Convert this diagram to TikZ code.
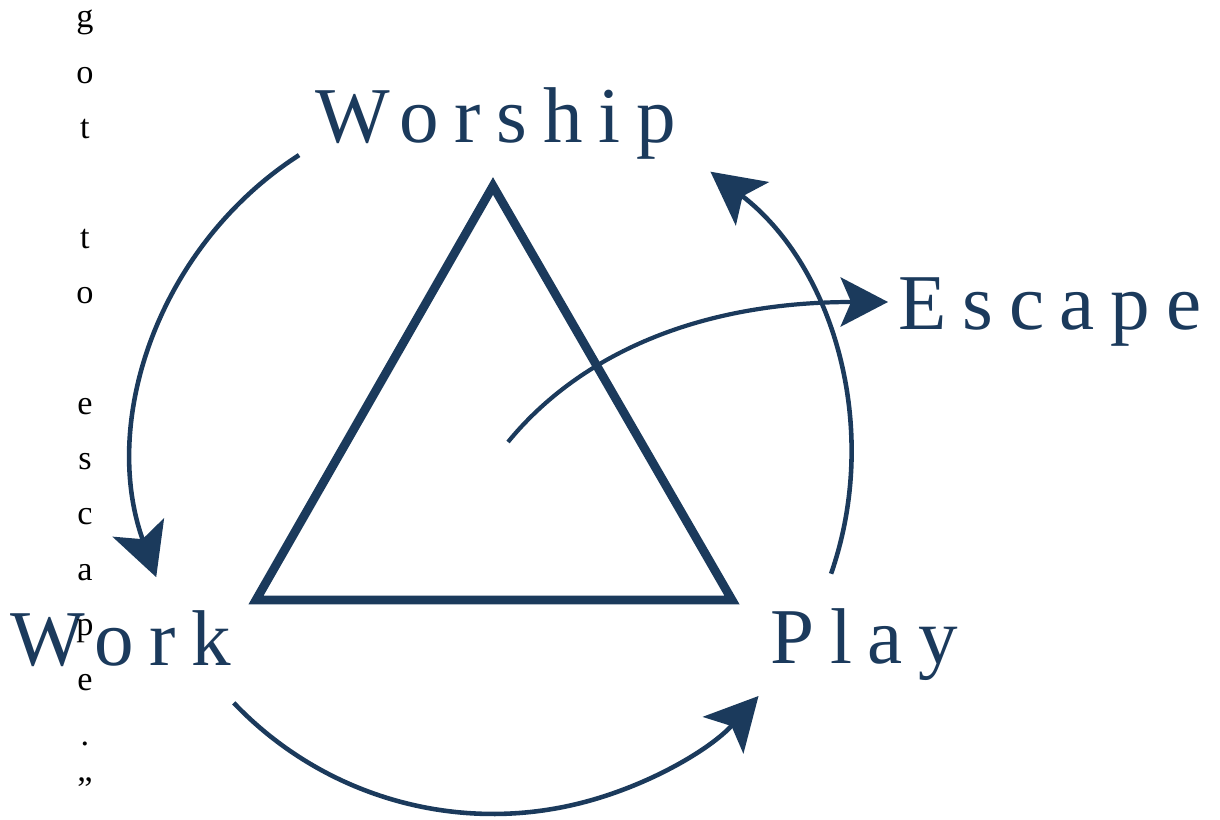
\documentclass[tikz,border=0pt]{standalone}
\usepackage{fontspec}
\setmainfont{Liberation Serif}
\usetikzlibrary{positioning,calc,arrows.meta}
\definecolor{navy}{HTML}{1B3A5C}

\begin{document}
\begin{tikzpicture}[x=0.02cm, y=0.02cm, >={Stealth[length=30pt, width=31pt, inset=7pt]}, word/.style={anchor=base west, inner sep=0pt, text=navy, font=\fontsize{45}{54}\selectfont\addfontfeatures{LetterSpace=20}}, letter/.style={anchor=base, inner sep=0pt, font=\fontsize{19.5}{23}\selectfont}, flow/.style={->, draw=navy, line width=2.6pt}]

\useasboundingbox (0,0) rectangle (1220,819);

% the four words
\node[word] (worship) at (315,676) {Worship};
\node[word] (escape) at (898,489) {Escape};
\node[word] (work) at (10,154) {Work};
\node[word] (play) at (770,156) {Play};

% way out of the middle
\coordinate (mid) at (508,377);
\coordinate (esc) at (888,517);
\draw[->, navy, line width=2.4pt, >={Stealth[length=27pt, width=28pt, inset=6pt]}] (mid) .. controls (575,459) and (690,517) .. (esc);

% triangle
\coordinate (top) at (493,633);
\coordinate (bl) at (256,219);
\coordinate (br) at (732,219);
\draw[navy, line width=5pt, miter limit=10] (top) -- (bl) -- (br) -- cycle;

% cycle round it
\coordinate (o) at (493,363);
\path (o) ++(122.8:358) coordinate (w1);
\path (o) ++(223.6:358) coordinate (k1);
\path (o) ++(-19.2:358) coordinate (p1);
\draw[flow] (w1) arc[start angle=122.8, end angle=199.8, radius=7.16cm];
\draw[flow] (k1) arc[start angle=223.6, end angle=317.9, radius=7.16cm];
\draw[flow] (p1) arc[start angle=-19.2, end angle=52.6, radius=7.16cm];

% letters down the left side
\foreach \k/\ch in {0/g,1/o,2/t,4/t,5/o,7/e,8/s,9/c,10/a,11/p,12/e,13/.,14/”}
  \node[letter] (l\k) at (85,{791-55.2*\k}) {\ch};
\end{tikzpicture}
\end{document}
